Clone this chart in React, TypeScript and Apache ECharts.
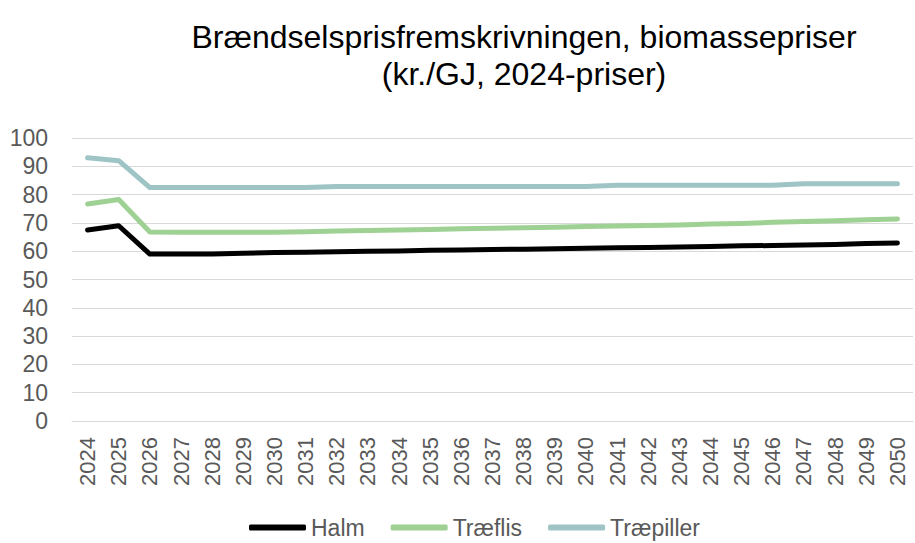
import React, { useEffect, useRef } from "react";
import * as echarts from "echarts";

const years = [
  "2024", "2025", "2026", "2027", "2028", "2029", "2030", "2031", "2032", "2033",
  "2034", "2035", "2036", "2037", "2038", "2039", "2040", "2041", "2042", "2043",
  "2044", "2045", "2046", "2047", "2048", "2049", "2050",
];

const halm = [
  67.5, 69, 59, 59, 59, 59.3, 59.5, 59.6, 59.8, 60, 60.1, 60.3, 60.4, 60.6, 60.7,
  60.9, 61, 61.2, 61.3, 61.5, 61.7, 61.9, 62, 62.2, 62.4, 62.7, 62.9,
];

const traeflis = [
  76.7, 78.3, 66.8, 66.7, 66.7, 66.7, 66.7, 66.9, 67.1, 67.3, 67.5, 67.7, 67.9,
  68.1, 68.3, 68.5, 68.7, 68.9, 69.1, 69.3, 69.6, 69.8, 70.2, 70.5, 70.8, 71.1, 71.4,
];

const traepiller = [
  93, 92, 82.5, 82.5, 82.5, 82.5, 82.5, 82.5, 82.9, 82.9, 82.9, 82.9, 82.9, 82.9,
  82.9, 82.9, 82.9, 83.3, 83.3, 83.3, 83.3, 83.3, 83.3, 83.8, 83.8, 83.8, 83.8,
];

const FONT = "Liberation Sans, Arial, sans-serif";

export default function App() {
  const ref = useRef<HTMLDivElement>(null);
  useEffect(() => {
    if (!ref.current) return;
    const chart = echarts.init(ref.current, null, { renderer: "svg" });
    const mk = (name: string, data: number[], color: string) => ({
      name,
      type: "line",
      data,
      symbol: "none",
      lineStyle: { color, width: 5, cap: "round", join: "round" },
      itemStyle: { color },
    });
    chart.setOption({
      animation: false,
      backgroundColor: "#ffffff",
      title: {
        text: "Brændselsprisfremskrivningen, biomassepriser\n(kr./GJ, 2024-priser)",
        left: 519,
        top: 13,
        textAlign: "center",
        textStyle: {
          fontFamily: FONT,
          fontSize: 32,
          fontWeight: "normal",
          color: "#000000",
          lineHeight: 37,
        },
      },
      legend: {
        left: 244,
        top: 511,
        icon: "roundRect",
        itemWidth: 57,
        itemHeight: 6,
        itemGap: 26,
        textStyle: { fontFamily: FONT, fontSize: 23, color: "#595959" },
        data: ["Halm", "Træflis", "Træpiller"],
      },
      grid: { left: 72, right: 2, top: 138, bottom: 122, outerBoundsMode: "none" },
      xAxis: {
        type: "category",
        data: years,
        boundaryGap: true,
        axisLine: { show: true, lineStyle: { color: "#d9d9d9", width: 1 } },
        axisTick: { show: false },
        axisLabel: {
          rotate: 90,
          margin: 16,
          interval: 0,
          fontFamily: FONT,
          fontSize: 22,
          lineHeight: 17,
          color: "#595959",
        },
      },
      yAxis: {
        type: "value",
        min: 0,
        max: 100,
        interval: 10,
        axisLine: { show: false },
        axisTick: { show: false },
        axisLabel: { margin: 24, fontFamily: FONT, fontSize: 23, color: "#595959" },
        splitLine: { lineStyle: { color: "#d9d9d9", width: 1 } },
      },
      series: [
        mk("Halm", halm, "#000000"),
        mk("Træflis", traeflis, "#9ed193"),
        mk("Træpiller", traepiller, "#9fc4c5"),
      ],
    });
    return () => chart.dispose();
  }, []);
  return (
    <div
      ref={ref}
      style={{ position: "absolute", left: 0, top: 0, width: 915, height: 543 }}
    />
  );
}
